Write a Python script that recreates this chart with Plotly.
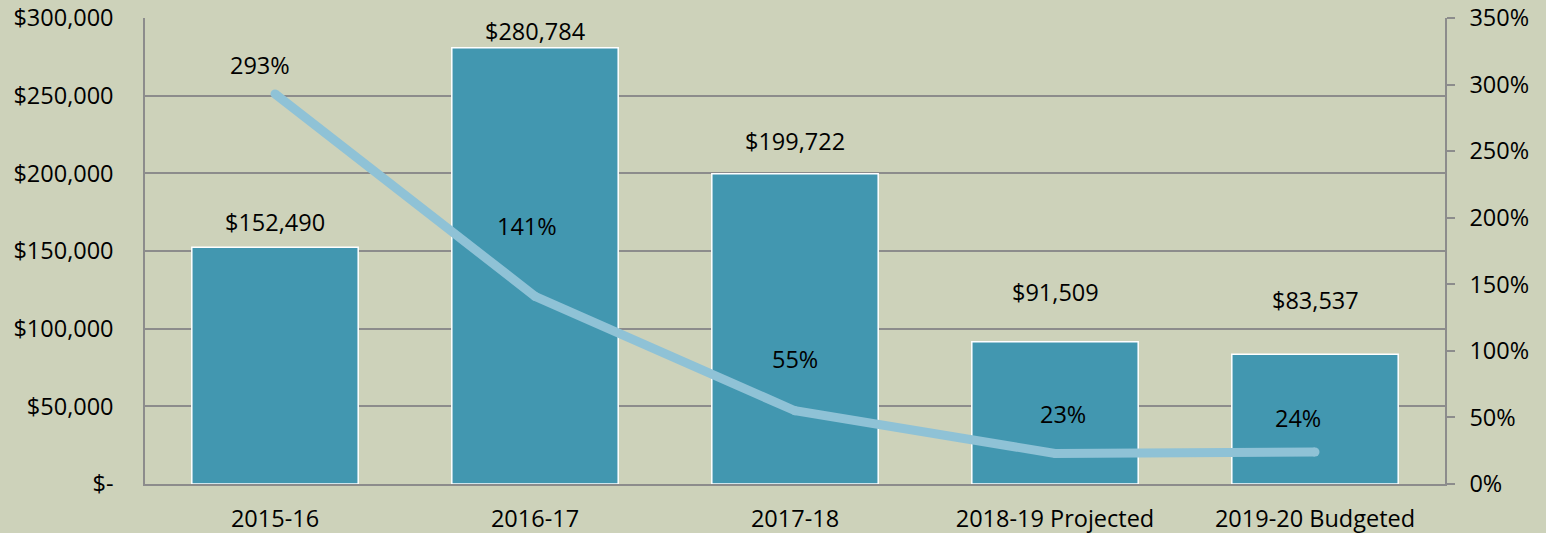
import plotly.graph_objects as go

categories = ["2015-16", "2016-17", "2017-18", "2018-19 Projected", "2019-20 Budgeted"]
amounts = [152490, 280784, 199722, 91509, 83537]
pct = [2.93, 1.41, 0.55, 0.23, 0.24]

left_ticks = [0, 50000, 100000, 150000, 200000, 250000, 300000]
left_labels = ["$-", "$50,000", "$100,000", "$150,000", "$200,000", "$250,000", "$300,000"]
right_ticks = [0, 0.5, 1.0, 1.5, 2.0, 2.5, 3.0, 3.5]
right_labels = ["0%", "50%", "100%", "150%", "200%", "250%", "300%", "350%"]

# label placement offsets (pixels), as in the reference
bar_label_shift = [25, 17, 33, 50, 54]
pct_label_shift = [29, 70, 52, 39, 34]
pct_label_xshift = [-15, -8, 0, 8, -17]

BG = "#CDD2BA"
BAR = "#4297B0"
LINE = "#8FC2D6"
GRID = "#8C8C8C"
FONT = "Open Sans"
FS = 23.5

fig = go.Figure()
fig.add_trace(go.Bar(
    x=categories, y=amounts, marker=dict(color=BAR, line=dict(color="white", width=1.5)),
    width=0.64, yaxis="y", hoverinfo="skip"))
fig.add_trace(go.Scatter(
    x=categories, y=pct, yaxis="y2", mode="lines+markers",
    line=dict(color=LINE, width=9), marker=dict(color=LINE, size=9),
    hoverinfo="skip"))

annotations = []
for c, v, s in zip(categories, amounts, bar_label_shift):
    annotations.append(dict(x=c, y=v, xref="x", yref="y", text=f"${v:,}", showarrow=False,
                            yanchor="middle", yshift=s, font=dict(family=FONT, size=FS, color="black")))
for c, p, s, xs in zip(categories, pct, pct_label_shift, pct_label_xshift):
    annotations.append(dict(x=c, y=p, xref="x", yref="y2", text=f"{round(p*100)}%", showarrow=False,
                            yanchor="middle", yshift=s, xshift=xs,
                            font=dict(family=FONT, size=FS, color="black")))

fig.update_layout(
    width=1546, height=533, margin=dict(l=145, r=101, t=18, b=49, autoexpand=False),
    paper_bgcolor=BG, plot_bgcolor=BG, showlegend=False, bargap=0.36,
    font=dict(family=FONT, size=FS, color="black"),
    xaxis=dict(showline=True, linecolor=GRID, linewidth=1.5, showgrid=False,
               ticks="", ticklabelstandoff=13, tickfont=dict(size=FS), automargin=False),
    yaxis=dict(range=[0, 300000], tickvals=left_ticks, ticktext=left_labels,
               showgrid=True, gridcolor=GRID, gridwidth=1.5, showline=True,
               linecolor=GRID, linewidth=1.5, ticks="", ticklabelstandoff=25,
               zeroline=False, tickfont=dict(size=FS), automargin=False),
    yaxis2=dict(range=[0, 3.5], tickvals=right_ticks, ticktext=right_labels,
                overlaying="y", side="right", showgrid=False, showline=True,
                linecolor=GRID, linewidth=1.5, ticks="outside", ticklen=8,
                tickcolor=GRID, tickwidth=1.5, ticklabelstandoff=10,
                zeroline=False, tickfont=dict(size=FS), automargin=False),
    annotations=annotations,
)

fig.write_html("out.html")
